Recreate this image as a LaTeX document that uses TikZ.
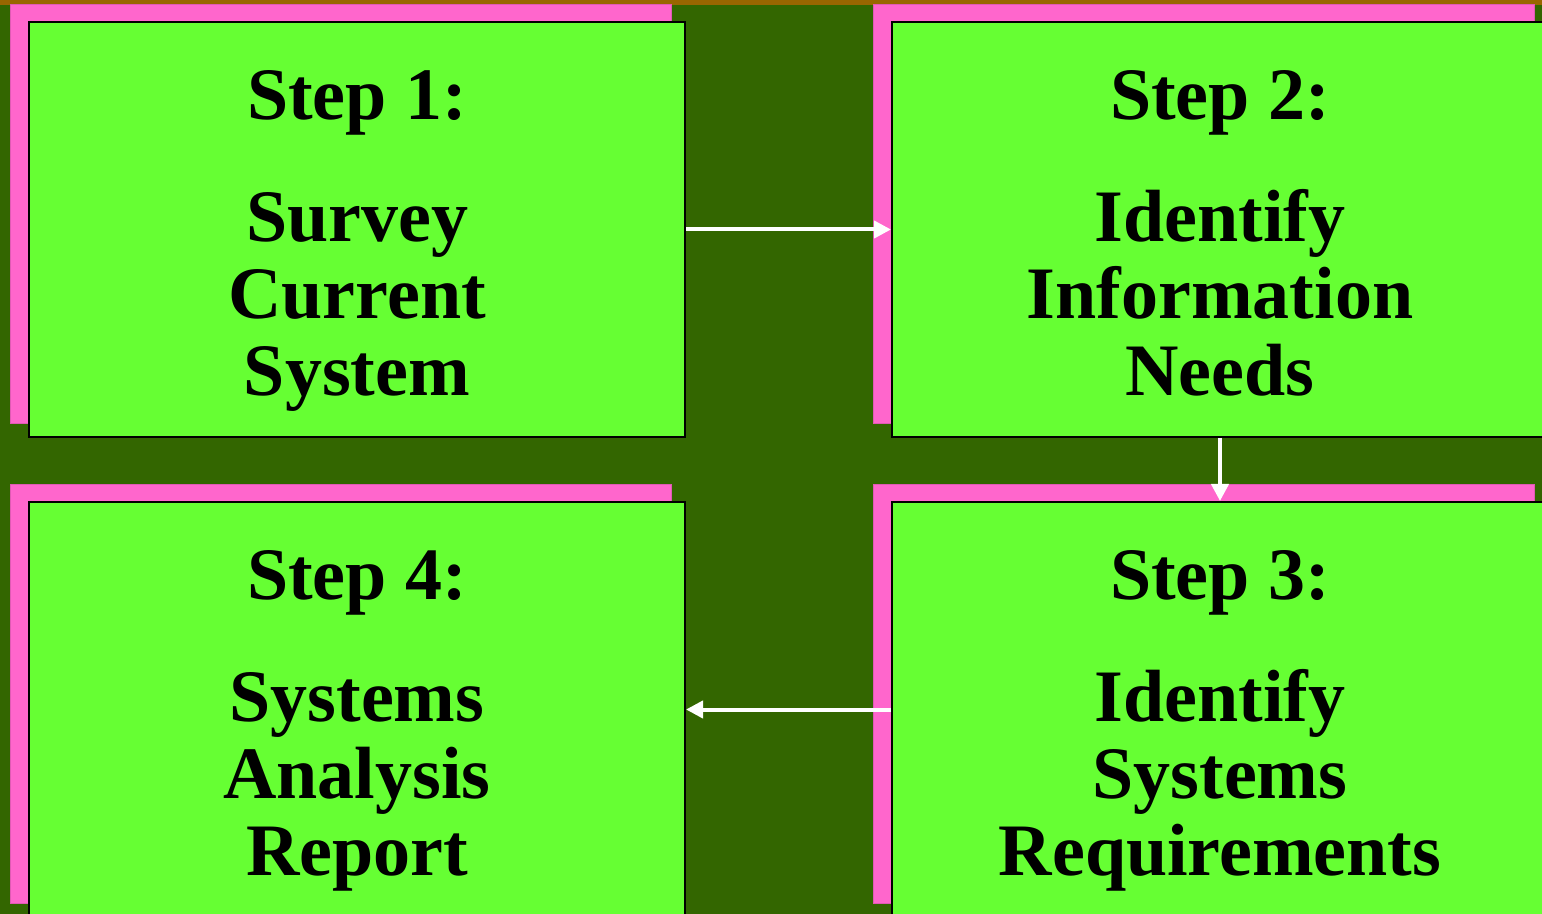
\documentclass[tikz,border=0pt]{standalone}
\usepackage{fontspec}
\setmainfont{Liberation Serif}
\usetikzlibrary{arrows.meta}
\definecolor{bgdark}{HTML}{336600}
\definecolor{topband}{HTML}{996600}
\definecolor{boxgreen}{HTML}{66FF33}
\definecolor{shadowpink}{HTML}{FF66CC}
\definecolor{pinkedge}{HTML}{E05AB4}
\tikzset{
  stepbox/.style={draw=black, line width=1pt, fill=boxgreen, rectangle,
    minimum width=328pt, minimum height=207.5pt, inner sep=0pt},
  steptext/.style={anchor=north, align=center, inner sep=0pt, text=black,
    font=\fontsize{37}{38.5}\selectfont\bfseries},
  flow/.style={draw=white, line width=2pt,
    -{Triangle[length=8.5pt,width=8.5pt]}},
}
\newcommand{\firstline}{\rule{0pt}{28pt}}
\newcommand{\pinkshadow}[1]{%
  \filldraw[fill=shadowpink, draw=pinkedge, line width=0.4pt]
    ([shift={(-18,-15)}]#1.south west) rectangle ([shift={(-15,-17)}]#1.north east);}
\begin{document}
\begin{tikzpicture}[x=0.5pt, y=-0.5pt]
  \useasboundingbox (0,0) rectangle (1542,914);
  \clip (0,0) rectangle (1542,914);
  % background and top band
  \fill[bgdark] (0,0) rectangle (1542,914);
  \fill[topband] (0,0) rectangle (1542,5);

  % step box frames
  \path (357,229.5) node[stepbox, draw=none, fill=none] (b1) {};
  \path (1220,229.5) node[stepbox, draw=none, fill=none] (b2) {};
  \path (1220,709.5) node[stepbox, draw=none, fill=none] (b3) {};
  \path (357,709.5) node[stepbox, draw=none, fill=none] (b4) {};

  \pinkshadow{b1}
  \pinkshadow{b2}
  \pinkshadow{b3}
  \pinkshadow{b4}

  \node[stepbox] (g1) at (b1) {};
  \node[stepbox] (g2) at (b2) {};
  \node[stepbox] (g3) at (b3) {};
  \node[stepbox] (g4) at (b4) {};

  % box texts
  \node[steptext, yshift=-21pt] (t1) at (g1.north)
    {\firstline Step 1:\\[22.5pt] Survey\\ Current\\ System};
  \node[steptext, yshift=-21pt] (t2) at (g2.north)
    {\firstline Step 2:\\[22.5pt] Identify\\ Information\\ Needs};
  \node[steptext, yshift=-21pt] (t3) at (g3.north)
    {\firstline Step 3:\\[22.5pt] Identify\\ Systems\\ Requirements};
  \node[steptext, yshift=-21pt] (t4) at (g4.north)
    {\firstline Step 4:\\[22.5pt] Systems\\ Analysis\\ Report};

  % flow between the steps
  \draw[flow] (g1.east) -- (g2.west);
  \draw[flow] (g2.south) -- (g3.north);
  \draw[flow] (g3.west) -- (g4.east);
\end{tikzpicture}
\end{document}
